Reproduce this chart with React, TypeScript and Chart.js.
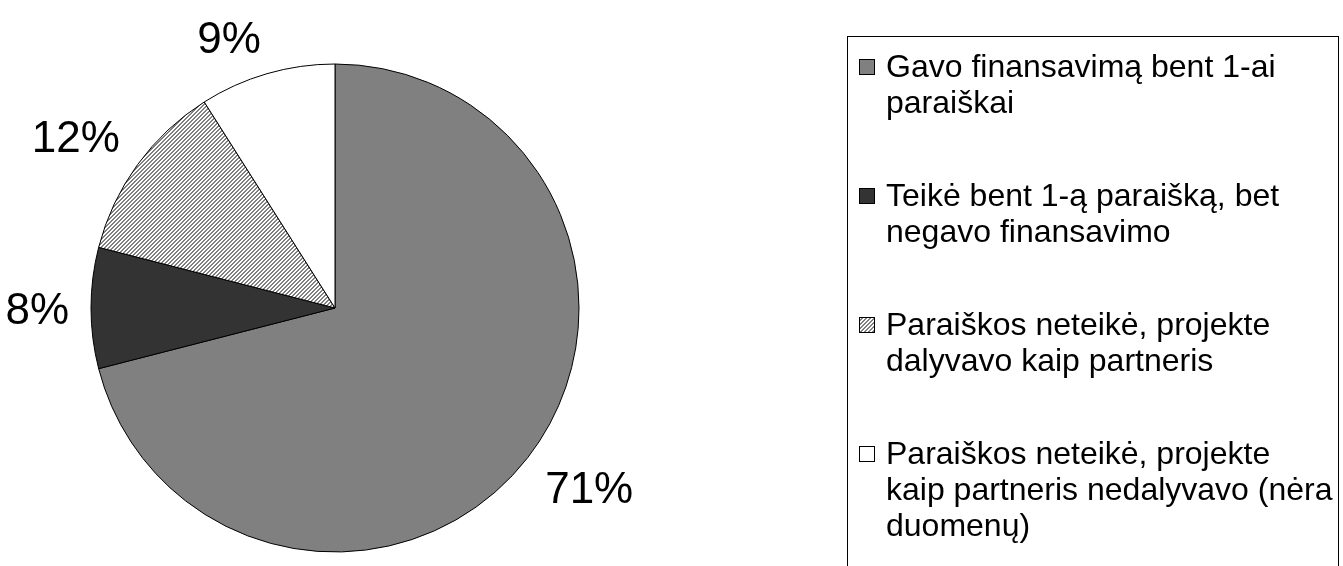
import React, { useEffect, useRef } from 'react';
import { Chart, registerables } from 'chart.js';

Chart.register(...registerables);

// ---- data ----
const categories: string[][] = [
  ['Gavo finansavimą bent 1-ai', 'paraiškai'],
  ['Teikė bent 1-ą paraišką, bet', 'negavo finansavimo'],
  ['Paraiškos neteikė, projekte', 'dalyvavo kaip partneris'],
  ['Paraiškos neteikė, projekte', 'kaip partneris nedalyvavo (nėra', 'duomenų)'],
];
const shares: number[] = [71, 8, 12, 9];
const percentLabels: string[] = ['71%', '8%', '12%', '9%'];

const FONT = '"Liberation Sans", Arial, sans-serif';

function makeHatch(): CanvasPattern | string {
  const c = document.createElement('canvas');
  c.width = 4;
  c.height = 4;
  const g = c.getContext('2d');
  if (!g) return '#aaaaaa';
  g.fillStyle = '#ffffff';
  g.fillRect(0, 0, 4, 4);
  g.fillStyle = '#808080';
  for (let y = 0; y < 4; y++) {
    const x = (3 - y + 4) % 4;
    g.fillRect(x, y, 1, 1);
    g.fillRect((x + 1) % 4, y, 1, 1);
  }
  const p = g.createPattern(c, 'repeat');
  return p || '#aaaaaa';
}

const clamp = (v: number) => Math.max(-1, Math.min(1, v));

const sliceLabelPlugin = {
  id: 'sliceLabels',
  afterDatasetsDraw(chart: any) {
    const ctx = chart.ctx;
    const meta = chart.getDatasetMeta(0);
    ctx.save();
    ctx.font = `44px ${FONT}`;
    ctx.fillStyle = '#000';
    ctx.textAlign = 'left';
    ctx.textBaseline = 'alphabetic';
    meta.data.forEach((arc: any, i: number) => {
      const { x, y, startAngle, endAngle, outerRadius } = arc.getProps(
        ['x', 'y', 'startAngle', 'endAngle', 'outerRadius'],
        true
      );
      const mid = (startAngle + endAngle) / 2;
      const cos = Math.cos(mid);
      const sin = Math.sin(mid);
      const gap = 22;
      const ax = x + cos * (outerRadius + gap);
      const ay = y + sin * (outerRadius + gap);
      const text = percentLabels[i];
      const m = ctx.measureText(text);
      const w = m.width;
      const h = 44 * 0.716;
      const cx = ax + clamp(cos * 4) * (w / 2);
      const cy = ay + clamp(sin * 4) * (h / 2);
      ctx.fillText(text, cx - w / 2, cy + h / 2);
    });
    ctx.restore();
  },
};

const boxLegendPlugin = {
  id: 'boxLegend',
  afterDraw(chart: any) {
    const ctx = chart.ctx;
    const ds = chart.data.datasets[0];
    const left = 847.5;
    const top = 36.5;
    const right = 1338.5;
    ctx.save();
    ctx.strokeStyle = '#000';
    ctx.lineWidth = 1;
    ctx.strokeRect(left, top, right - left, chart.height + 20 - top);
    ctx.font = `32px ${FONT}`;
    ctx.textAlign = 'left';
    ctx.textBaseline = 'alphabetic';
    const lineH = 36;
    const pitch = 129;
    const firstBase = 77;
    categories.forEach((lines, i) => {
      const base = firstBase + i * pitch;
      const mx = 859.5;
      const my = base - 17.5;
      const ms = 15;
      ctx.fillStyle = ds.backgroundColor[i];
      ctx.fillRect(mx, my, ms, ms);
      ctx.strokeStyle = '#000';
      ctx.lineWidth = 1;
      ctx.strokeRect(mx, my, ms, ms);
      ctx.fillStyle = '#000';
      lines.forEach((t, j) => {
        ctx.fillText(t, 886, base + j * lineH);
      });
    });
    ctx.restore();
  },
};

export default function App() {
  const ref = useRef<HTMLCanvasElement | null>(null);
  useEffect(() => {
    document.body.style.margin = '0';
    const canvas = ref.current;
    if (!canvas) return;
    const hatch = makeHatch();
    const chart = new Chart(canvas, {
      type: 'pie',
      data: {
        labels: categories.map((c) => c.join(' ')),
        datasets: [
          {
            data: shares,
            backgroundColor: ['#808080', '#333333', hatch as any, '#ffffff'],
            borderColor: '#000000',
            borderWidth: 1,
          },
        ],
      },
      options: {
        responsive: false,
        animation: false,
        layout: {
          padding: { left: 90.5, top: 63.5, bottom: 13.5, right: 763.5 },
        },
        plugins: {
          legend: { display: false },
          tooltip: { enabled: false },
        },
      },
      plugins: [sliceLabelPlugin, boxLegendPlugin],
    });
    return () => chart.destroy();
  }, []);
  return (
    <div style={{ width: 1343, height: 566, background: '#fff' }}>
      <canvas ref={ref} width={1343} height={566} style={{ display: 'block' }} />
    </div>
  );
}
